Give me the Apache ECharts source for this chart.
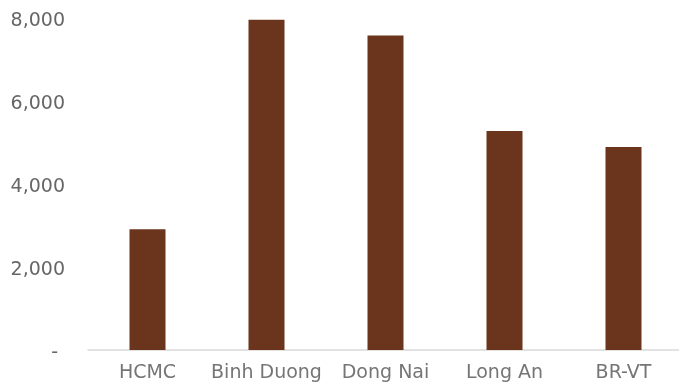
<!DOCTYPE html>
<html>
<head>
<meta charset="utf-8">
<script src="https://cdn.jsdelivr.net/npm/echarts@6/dist/echarts.min.js"></script>
<style>
  html, body { margin: 0; padding: 0; background: #fff; overflow: hidden; }
  #chart { width: 684px; height: 385px; }
</style>
</head>
<body>
<div id="chart"></div>
<script>
// Provinces along the x axis
const categories = ['HCMC', 'Binh Duong', 'Dong Nai', 'Long An', 'BR-VT'];
// Bar values
const values = [2910, 7960, 7580, 5280, 4890];
// Value-axis ticks
const yMin = 0;
const yMax = 8000;
const yStep = 2000;

const chart = echarts.init(document.getElementById('chart'));
chart.setOption({
  animation: false,
  backgroundColor: '#ffffff',
  grid: { left: 88, right: 1, top: 18, height: 332 },
  xAxis: {
    type: 'category',
    data: categories,
    axisLine: { show: true, lineStyle: { color: '#d9d9d9', width: 1.5 } },
    axisTick: { show: false },
    axisLabel: {
      interval: 0,
      color: '#757575',
      fontFamily: 'DejaVu Sans',
      fontSize: 19,
      margin: 14
    }
  },
  yAxis: {
    type: 'value',
    min: yMin,
    max: yMax,
    interval: yStep,
    axisLine: { show: false },
    axisTick: { show: false },
    splitLine: { show: false },
    axisLabel: {
      color: '#666666',
      fontFamily: 'DejaVu Sans',
      fontSize: 19,
      margin: 23,
      padding: [7, 0, 0, 0],
      formatter: function (v) {
        return v === 0 ? '{dash|-}' : v.toLocaleString('en-US');
      },
      rich: {
        dash: { color: '#666666', fontFamily: 'DejaVu Sans', fontSize: 19, padding: [0, 7, 0, 0] }
      }
    }
  },
  series: [{
    type: 'bar',
    data: values,
    barWidth: 36,
    itemStyle: { color: '#6B351D' }
  }]
});
</script>
</body>
</html>
